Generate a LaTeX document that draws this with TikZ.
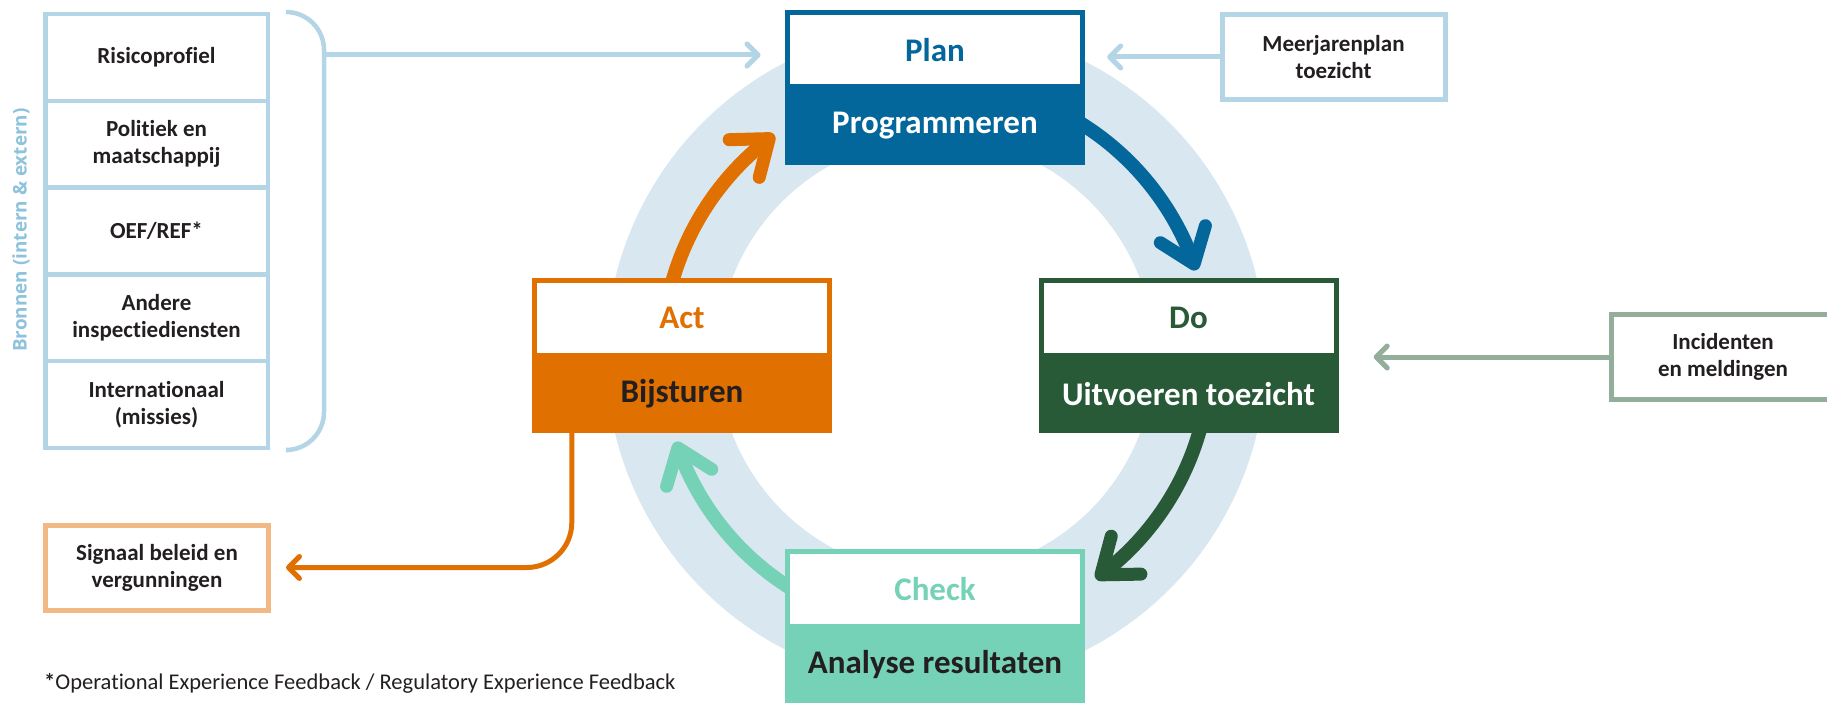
\documentclass[tikz,border=0pt]{standalone}
\usepackage{fontspec}
\setmainfont{Carlito}[Ligatures={NoCommon}]
\newfontfamily\bronfont{Open Sans}
\usetikzlibrary{calc,arrows.meta}
\definecolor{planblue}{HTML}{03679B}
\definecolor{dogreen}{HTML}{285A38}
\definecolor{actorange}{HTML}{E07000}
\definecolor{checkmint}{HTML}{76D2B6}
\definecolor{srcblue}{HTML}{B4D5E5}
\definecolor{ringblue}{HTML}{D9E7F0}
\definecolor{incgrey}{HTML}{94AE9C}
\definecolor{sigorange}{HTML}{F2B984}
\definecolor{labelblue}{HTML}{8FC2DC}
\definecolor{ink}{HTML}{231F20}
\begin{document}
\begin{tikzpicture}[x=1pt,y=-1pt,
  phasetop/.style={draw=#1, fill=white, line width=5pt, minimum width=295pt,
    minimum height=74.5pt, inner sep=0pt, text=#1,
    font=\fontsize{33}{36}\selectfont\bfseries},
  phasebot/.style={fill=#1, minimum width=300pt, minimum height=78pt, inner sep=0pt,
    font=\fontsize{33}{36}\selectfont\bfseries},
  srcbox/.style={draw=srcblue, line width=4.5pt, minimum width=222.5pt,
    minimum height=86.7pt, inner sep=0pt, align=center, text=ink,
    font=\fontsize{23}{27}\selectfont\bfseries},
  sidebox/.style={draw=#1, fill=white, line width=5pt, minimum width=223pt,
    minimum height=85pt, inner sep=0pt, align=center, text=ink,
    font=\fontsize{23}{27}\selectfont\bfseries},
  thinarrow/.style={draw=#1, line width=5pt,
    -{Straight Barb[length=11pt, width=22pt, round]}},
  bigarrow/.style={draw=#1, line width=14pt},
  chevron/.style={draw=#1, line width=13pt, line cap=round, line join=round}]

\useasboundingbox (0,0) rectangle (1827,703);
\clip (0,0) rectangle (1827,703);

% ring behind the cycle
\coordinate (C) at (936,356);
\draw[ringblue, line width=112pt] (C) circle[radius=274];

% curved cycle arrows along the ring
\draw[bigarrow=planblue] ($(C)+(-65:274)$) arc[start angle=-65, end angle=-21.2, radius=274];
\coordinate (bT) at ($(C)+(-19.6:274)$);
\coordinate (bB) at ($(C)+(-21.6:274)$);
\draw[chevron=planblue] ($(bT)!40pt!37:(bB)$) -- (bT) -- ($(bT)!40pt!-37:(bB)$);

\draw[bigarrow=dogreen] ($(C)+(10:274)$) arc[start angle=10, end angle=51.4, radius=274];
\coordinate (gT) at ($(C)+(53:274)$);
\coordinate (gB) at ($(C)+(51:274)$);
\draw[chevron=dogreen] ($(gT)!40pt!37:(gB)$) -- (gT) -- ($(gT)!40pt!-37:(gB)$);

\draw[bigarrow=checkmint] ($(C)+(115:274)$) arc[start angle=115, end angle=158.8, radius=274];
\coordinate (mT) at ($(C)+(160.4:274)$);
\coordinate (mB) at ($(C)+(158.4:274)$);
\draw[chevron=checkmint] ($(mT)!40pt!37:(mB)$) -- (mT) -- ($(mT)!40pt!-37:(mB)$);

\draw[bigarrow=actorange] ($(C)+(190:274)$) arc[start angle=190, end angle=230.9, radius=274];
\coordinate (oT) at ($(C)+(232.5:274)$);
\coordinate (oB) at ($(C)+(230.5:274)$);
\draw[chevron=actorange] ($(oT)!40pt!37:(oB)$) -- (oT) -- ($(oT)!40pt!-37:(oB)$);

% PDCA phase boxes
\node[phasetop=planblue] (plantop) at (935,49.75) {Plan};
\node[phasebot=planblue, text=white] (planbot) at (935,126) {Programmeren};
\node[phasetop=dogreen] (dotop) at (1188.5,317.75) {Do};
\node[phasebot=dogreen, text=white] (dobot) at (1188.5,394) {Uitvoeren toezicht};
\node[phasetop=checkmint] (checktop) at (935,588.75) {Check};
\node[phasebot=checkmint, text=ink] (checkbot) at (935,665) {Analyse resultaten};
\node[phasetop=actorange] (acttop) at (682,317.75) {Act};
\node[phasebot=actorange, text=ink] (actbot) at (682,394) {Bijsturen};

% sources stack
\node[srcbox] (s1) at (156.5,57.6) {Risicoprofiel};
\node[srcbox] (s2) at (156.5,144.3) {Politiek en\\maatschappij};
\node[srcbox] (s3) at (156.5,231) {OEF/REF*};
\node[srcbox] (s4) at (156.5,317.7) {Andere\\inspectiediensten};
\node[srcbox] (s5) at (156.5,404.4) {Internationaal\\(missies)};
\node[rotate=90, text=labelblue, inner sep=0pt,
  font=\bronfont\fontsize{18.9}{22}\selectfont\bfseries] (bronnen) at (21,230)
  {Bronnen (intern \& extern)};

% brace around the sources and its arrow to Plan
\draw[srcblue, line width=4.5pt, rounded corners=38pt]
  (286,12) -- (324,12) -- (324,450) -- (288,450);
\coordinate (brk) at (324,55);
\draw[thinarrow=srcblue, shorten >=24.5pt] (brk) -- (brk -| plantop.west);

% side inputs and output
\node[sidebox=srcblue] (meer) at (1333.5,57) {Meerjarenplan\\toezicht};
\draw[thinarrow=srcblue, shorten >=22pt] (meer.west) -- (meer.west -| planbot.east);

\node[sidebox=incgrey] (inc) at (1723,357) {Incidenten\\en meldingen};
\draw[thinarrow=incgrey, shorten >=35pt] (inc.west) -- (inc.west -| dobot.east);

\node[sidebox=sigorange] (sig) at (157,567.5) {Signaal beleid en\\vergunningen};
\coordinate (sigstart) at ([xshift=40pt]actbot.south west);
\draw[thinarrow=actorange, rounded corners=45pt, shorten >=15pt] (sigstart) |- (sig.east);

% footnote
\node[anchor=west, text=ink, inner sep=0pt, font=\fontsize{22.5}{26}\selectfont] (note) at (44,683)
  {{\bfseries *}Operational Experience Feedback / Regulatory Experience Feedback};
\end{tikzpicture}
\end{document}
